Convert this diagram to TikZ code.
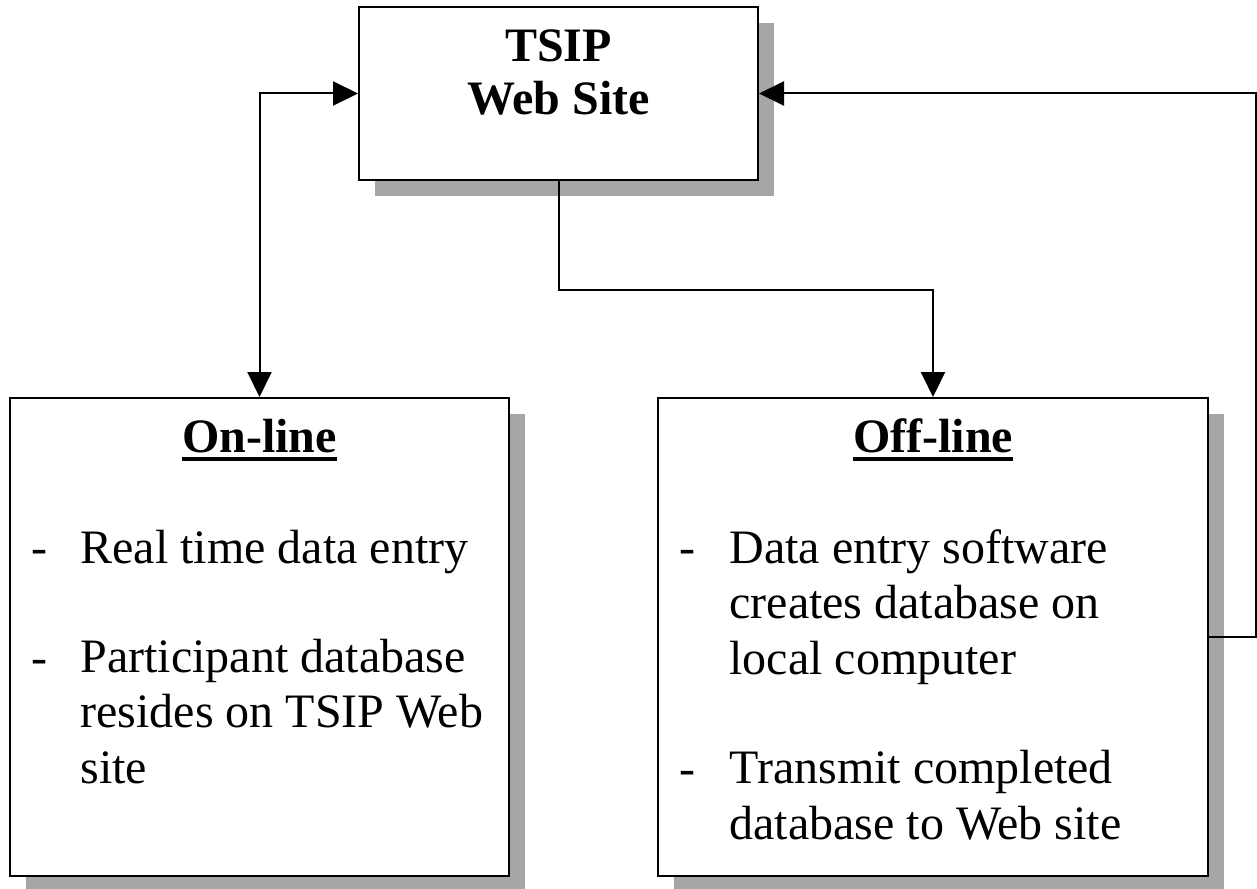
\documentclass[tikz,border=0pt]{standalone}
\usepackage{fontspec}
\setmainfont{Liberation Serif}
\usetikzlibrary{positioning,shadows,arrows.meta}

\tikzset{
  panel/.style={draw, line width=1pt, fill=white, inner sep=0pt,
    drop shadow={shadow xshift=8pt, shadow yshift=-8pt, fill=black!35, opacity=1}},
  txt/.style={font=\fontsize{24}{27.75}\selectfont, inner sep=0pt, anchor=base west, align=left},
  head/.style={font=\fontsize{24}{26.5}\selectfont\bfseries, inner sep=0pt, anchor=base, align=center},
  link/.style={line width=1pt},
  >={Triangle[length=12.5pt,width=12pt]}
}

\begin{document}
\begin{tikzpicture}[x=0.5pt,y=-0.5pt]
\useasboundingbox (0,0) rectangle (1257,888);

% boxes
\node[panel, minimum width=199.5pt, minimum height=86.5pt] (site) at (558.5,93.5) {};
\node[panel, minimum width=249.5pt, minimum height=239pt] (online) at (259.5,637) {};
\node[panel, minimum width=275pt, minimum height=239pt] (offline) at (933,637) {};

% titles (multi-line nodes sit on their last baseline)
\node[head] (sitehead) at (558.5,115) {TSIP\\Web Site};
\node[head] (onhead) at (259.5,452) {On-line};
\node[head] (offhead) at (933,452) {Off-line};
\draw[line width=2pt] ([yshift=-3.5pt]onhead.base west) -- ([yshift=-3.5pt]onhead.base east);
\draw[line width=2pt] ([yshift=-3.5pt]offhead.base west) -- ([yshift=-3.5pt]offhead.base east);

% lists
\node[txt] (ondash1) at (31,563) {-};
\node[txt] (onitem1) at (80,563) {Real time data entry};
\node[txt] (ondash2) at (31,673) {-};
\node[txt] (onitem2) at (80,783) {Participant database\\resides on TSIP Web\\site};
\node[txt] (offdash1) at (679,563) {-};
\node[txt] (offitem1) at (729,674) {Data entry software\\creates database on\\local computer};
\node[txt] (offdash2) at (679,784) {-};
\node[txt] (offitem2) at (729,839) {Transmit completed\\database to Web site};

% connectors
\draw[link, <->] (site.west) -| (online.north);
\draw[link, ->] (site.south) -- ++(0,109) -| (offline.north);
\draw[link, ->] (offline.east) -- ++(47,0) |- (site.east);
\end{tikzpicture}
\end{document}
